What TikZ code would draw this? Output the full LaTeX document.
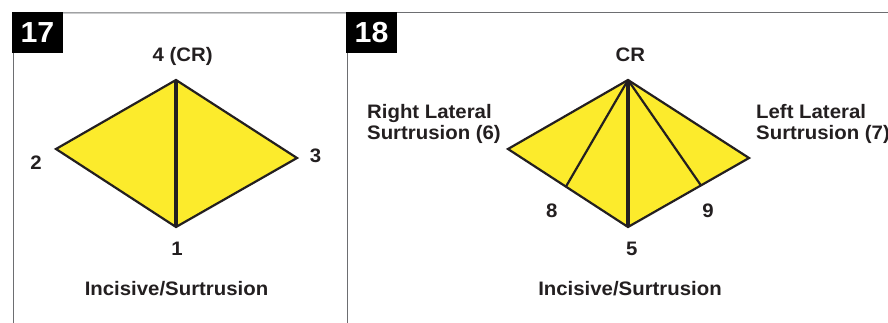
\documentclass[tikz,border=0pt]{standalone}
\usepackage{fontspec}
\setmainfont{Liberation Sans}[FakeStretch=1.045]
\usetikzlibrary{positioning}
\definecolor{wedgeyellow}{HTML}{FCEB2C}
\definecolor{edgeblack}{HTML}{231F20}
\definecolor{framegray}{HTML}{6D6E71}

\begin{document}
\begin{tikzpicture}[
  x=1pt, y=-1pt,
  tag/.style={fill=black, text=white, minimum width=51pt, minimum height=41pt,
              inner sep=0pt, font=\fontsize{29}{29}\selectfont\bfseries},
  lbl/.style={anchor=base, inner sep=0pt, text=edgeblack,
              font=\fontsize{19.5}{20.5}\selectfont\bfseries},
  side/.style={lbl, anchor=base west, align=left},
  face/.style={fill=wedgeyellow, draw=edgeblack, line width=2.2pt},
  spoke/.style={draw=edgeblack, line width=2.2pt},
  spine/.style={draw=edgeblack, line width=4pt},
  frame/.style={draw=framegray, line width=1pt}
]
  \useasboundingbox (0,0) rectangle (888,323);

  % panel frames
  \node[tag] (tag17) at (37.5,32.5) {17};
  \node[tag] (tag18) at (371.5,32.5) {18};
  \coordinate (fr17) at (13,323);
  \coordinate (frmid) at (347,323);
  \coordinate (frend) at (888,13);
  \draw[frame] (tag17.south west -| fr17) -- (fr17);
  \draw[frame] (tag17.north east) ++(0,1) -- (tag18.north west |- 0,13);
  \draw[frame] (tag18.south west -| frmid) -- (frmid);
  \draw[frame] (tag18.north east |- frend) -- (frend);

  % 17: incisive / centric
  \coordinate (cr17) at (176,80);
  \coordinate (p2) at (56,149);
  \coordinate (p3) at (297,158);
  \coordinate (p1) at (176,227);
  \filldraw[face] (cr17) -- (p2) -- (p1) -- (p3) -- cycle;
  \draw[spine] (cr17) -- (p1);

  \node[lbl] (l4) at (182.7,61.5) {4 (CR)};
  \node[lbl] (l2) at (36,170) {2};
  \node[lbl] (l3) at (315.5,163) {3};
  \node[lbl] (l1) at (177,255) {1};
  \node[lbl] (cap17) at (176.5,295) {Incisive/Surtrusion};

  % 18: with lateral surtrusions
  \coordinate (cr18) at (628,80);
  \coordinate (p6) at (508,149);
  \coordinate (p7) at (749,158);
  \coordinate (p5) at (628,227);
  \coordinate (p8) at (566,186.5);
  \coordinate (p9) at (701,185.5);
  \filldraw[face] (cr18) -- (p6) -- (p5) -- (p7) -- cycle;
  \draw[spoke] (cr18) -- (p8);
  \draw[spoke] (cr18) -- (p9);
  \draw[spine] (cr18) -- (p5);

  \node[lbl] (lcr) at (630.3,61.7) {CR};
  \node[side] (l6) at (367,139.5) {Right Lateral\\Surtrusion (6)};
  \node[side] (l7) at (756,139.5) {Left Lateral\\Surtrusion (7)};
  \node[lbl] (l8) at (551.7,217) {8};
  \node[lbl] (l9) at (708,217) {9};
  \node[lbl] (l5) at (631.7,255) {5};
  \node[lbl] (cap18) at (630,295) {Incisive/Surtrusion};
\end{tikzpicture}
\end{document}
